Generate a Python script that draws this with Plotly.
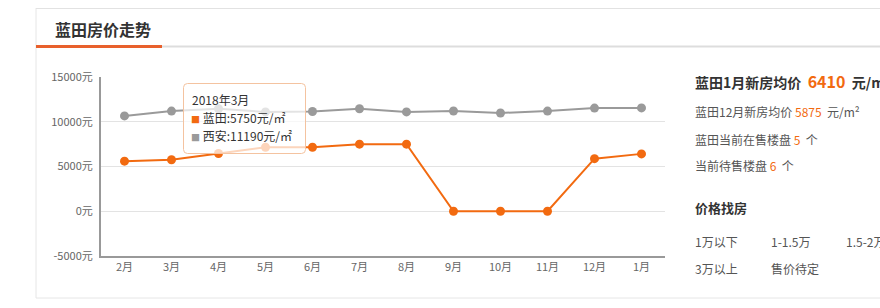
import plotly.graph_objects as go

months = ["2月", "3月", "4月", "5月", "6月", "7月", "8月", "9月", "10月", "11月", "12月", "1月"]
lantian = [5600, 5750, 6450, 7150, 7150, 7500, 7500, 0, 0, 0, 5875, 6410]
xian = [10650, 11190, 11450, 11100, 11150, 11450, 11100, 11200, 10980, 11190, 11530, 11550]
ytick_vals = [-5000, 0, 5000, 10000, 15000]
ytick_text = [f"{v}元" for v in ytick_vals]
price_links_row1 = ["1万以下", "1-1.5万", "1.5-2万"]
price_links_row2 = ["3万以上", "售价待定"]
on_sale = 5
pending = 6
hover_idx = 1

ORANGE = "#f26a10"
GRAY = "#9a9a9a"
FONT = "Noto Sans CJK SC"
SP = "\u00a0"

W, H = 880, 308
L, R, T, B = 101, 665, 77, 256


def px(x):
    return (x - L) / (R - L)


def py(y):
    return (B - y) / (B - T)


fig = go.Figure()
fig.add_trace(go.Scatter(x=months, y=xian, mode="lines+markers", name="西安",
                         line=dict(color=GRAY, width=2),
                         marker=dict(color=GRAY, size=9), hoverinfo="skip"))
fig.add_trace(go.Scatter(x=months, y=lantian, mode="lines+markers", name="蓝田",
                         line=dict(color=ORANGE, width=2),
                         marker=dict(color=ORANGE, size=9), hoverinfo="skip"))

shapes = []
# outer box
shapes.append(dict(type="line", xref="paper", yref="paper", x0=px(36), x1=px(36), y0=py(8), y1=py(298),
                   line=dict(color="#e6e6e6", width=1), layer="below"))
shapes.append(dict(type="line", xref="paper", yref="paper", x0=px(36), x1=px(885), y0=py(8.5), y1=py(8.5),
                   line=dict(color="#e2e2e2", width=1), layer="below"))
shapes.append(dict(type="line", xref="paper", yref="paper", x0=px(36), x1=px(885), y0=py(298), y1=py(298),
                   line=dict(color="#e6e6e6", width=1), layer="below"))
# title underline
shapes.append(dict(type="line", xref="paper", yref="paper", x0=px(36), x1=px(885), y0=py(46.5), y1=py(46.5),
                   line=dict(color="#dddddd", width=2), layer="below"))
shapes.append(dict(type="line", xref="paper", yref="paper", x0=px(36), x1=px(162), y0=py(46.5), y1=py(46.5),
                   line=dict(color="#e8602c", width=3), layer="below"))

# tooltip box (rounded rect)
x0, x1, y0, y1, r = px(183.5), px(305.5), py(83.5), py(153.5), 4
rx = r / (R - L)
ry = r / (B - T)
path = (f"M {x0+rx},{y0} L {x1-rx},{y0} Q {x1},{y0} {x1},{y0-ry} "
        f"L {x1},{y1+ry} Q {x1},{y1} {x1-rx},{y1} L {x0+rx},{y1} Q {x0},{y1} {x0},{y1+ry} "
        f"L {x0},{y0-ry} Q {x0},{y0} {x0+rx},{y0} Z")
shapes.append(dict(type="path", xref="paper", yref="paper", path=path,
                   fillcolor="rgba(255,255,255,0.72)", line=dict(color="#f4c3a0", width=1), layer="above"))

annotations = []


def txt(x, y, text, size=12, color="#555555", bold=False, xanchor="left"):
    if bold:
        text = f"<b>{text}</b>"
    annotations.append(dict(xref="paper", yref="paper", x=px(x), y=py(y), text=text, showarrow=False,
                            xanchor=xanchor, yanchor="middle", font=dict(family=FONT, size=size, color=color)))


txt(53, 29, "蓝田房价走势", size=16, color="#333333", bold=True)

# tooltip texts
txt(190, 99, f"2018年{months[hover_idx]}", size=12, color="#333333")
txt(189, 117, f"<span style='color:{ORANGE};font-size:9px'>■</span> 蓝田:{lantian[hover_idx]}元/㎡", size=12, color="#333333")
txt(189, 135, f"<span style='color:{GRAY};font-size:9px'>■</span> 西安:{xian[hover_idx]}元/㎡", size=12, color="#333333")

# right panel
txt(693, 81, f"蓝田{months[-1]}新房均价{SP}{SP}<span style='font-size:16px;color:{ORANGE}'>{lantian[-1]}</span>{SP}{SP}元/m²",
    size=14, color="#333333", bold=True)
txt(693, 111, f"蓝田{months[-2]}新房均价{SP}<span style='color:{ORANGE}'>{lantian[-2]}</span>{SP}{SP}元/m²", size=12)
txt(693, 139, f"蓝田当前在售楼盘{SP}<span style='color:{ORANGE}'>{on_sale}</span>{SP}{SP}个", size=12)
txt(693, 165, f"当前待售楼盘{SP}<span style='color:{ORANGE}'>{pending}</span>{SP}{SP}个", size=12)
txt(693, 207, "价格找房", size=13, color="#333333", bold=True)
for i, s in enumerate(price_links_row1):
    txt(693 + 75.5 * i, 241, s, size=12)
for i, s in enumerate(price_links_row2):
    txt(693 + 75.5 * i, 268, s, size=12)

fig.update_layout(
    width=W, height=H,
    margin=dict(l=L, r=W - R, t=T, b=H - B, pad=0),
    paper_bgcolor="white", plot_bgcolor="white",
    showlegend=False,
    font=dict(family=FONT, color="#666666", size=11),
    xaxis=dict(type="category", range=[-0.5, 11.5], showgrid=False, showline=True,
               linecolor="#999999", linewidth=2, ticks="", tickfont=dict(size=11, color="#666666"),
               fixedrange=True),
    yaxis=dict(range=[-5000, 15000], tickvals=ytick_vals, ticktext=ytick_text, showgrid=True,
               gridcolor="#e3e3e3", gridwidth=1, zeroline=False, showline=True, linecolor="#999999",
               linewidth=2, ticks="", tickfont=dict(size=11, color="#666666"), fixedrange=True,
               ticklabelstandoff=4),
    shapes=shapes, annotations=annotations,
)

fig.write_html("out.html")
